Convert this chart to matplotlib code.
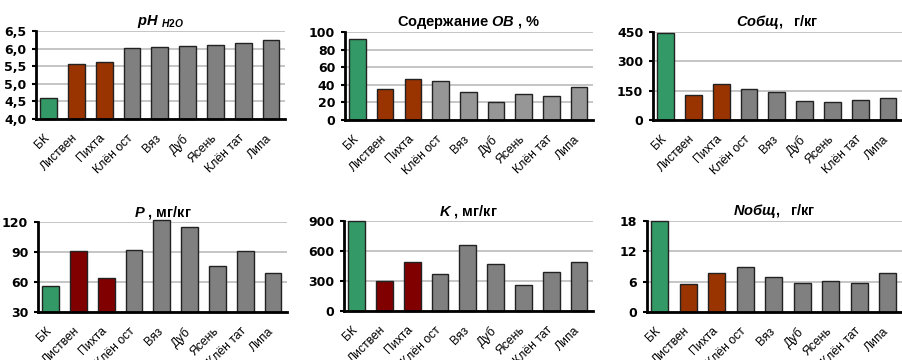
import matplotlib
matplotlib.use("Agg")
import matplotlib.pyplot as plt

plt.rcParams['font.family'] = ['Liberation Sans', 'DejaVu Sans']
plt.rcParams['mathtext.fontset'] = 'custom'
plt.rcParams['mathtext.it'] = 'Liberation Sans:italic:bold'
plt.rcParams['mathtext.rm'] = 'Liberation Sans:bold'
plt.rcParams['mathtext.bf'] = 'Liberation Sans:bold'

species = ["БК", "Листвен", "Пихта", "Клён ост", "Вяз", "Дуб", "Ясень", "Клён тат", "Липа"]

ph = [4.59, 5.56, 5.61, 6.02, 6.05, 6.06, 6.09, 6.16, 6.24]
ob = [92.5, 34.8, 46.5, 44.5, 31.5, 20.8, 29.0, 27.6, 37.0]
c_total = [445, 126, 182, 158, 144, 95, 92, 102, 112]
p_vals = [56.3, 90.7, 64.3, 92.3, 122.5, 115.0, 76.3, 91.0, 68.7]
k_vals = [900, 299, 495, 375, 664, 468, 256, 395, 488]
n_total = [18.05, 5.6, 7.8, 8.95, 6.85, 5.7, 6.2, 5.75, 7.7]

GREEN = "#339966"
BROWN = "#993300"
DRED = "#800000"
GRAY = "#808080"
LGRAY = "#969696"

panels = [
    # values, title, ylim, yticks, ticklabels, colors, rect (px)
    (ph, r"$\mathit{pH}$ $_{\mathit{H2O}}$", (4.0, 6.5), [4.0, 4.5, 5.0, 5.5, 6.0, 6.5],
     ["4,0", "4,5", "5,0", "5,5", "6,0", "6,5"], [GREEN, BROWN, BROWN] + [GRAY] * 6,
     [36, 31, 249, 88]),
    (ob, r"Содержание $\mathit{OB}$ , %", (0, 100), [0, 20, 40, 60, 80, 100],
     None, [GREEN, BROWN, BROWN] + [LGRAY] * 6, [345, 32, 248, 88]),
    (c_total, r"$\mathit{Cобщ,}$  г/кг", (0, 450), [0, 150, 300, 450],
     None, [GREEN, BROWN, BROWN] + [GRAY] * 6, [653, 32, 249, 88]),
    (p_vals, r"$\mathit{P}$ , мг/кг", (30, 120), [30, 60, 90, 120],
     None, [GREEN, DRED, DRED] + [GRAY] * 6, [38, 222, 249, 90]),
    (k_vals, r"$\mathit{K}$ , мг/кг", (0, 900), [0, 300, 600, 900],
     None, [GREEN, DRED, DRED] + [GRAY] * 6, [344, 221, 249, 90]),
    (n_total, r"$\mathit{Nобщ,}$  г/кг", (0, 18), [0, 6, 12, 18],
     None, [GREEN, BROWN, BROWN] + [GRAY] * 6, [647, 221, 255, 91]),
]

W, H = 902, 360
fig = plt.figure(figsize=(W / 100, H / 100), dpi=100)

for vals, title, ylim, yticks, ytl, colors, (px, py, pw, ph_) in panels:
    ax = fig.add_axes([px / W, 1 - (py + ph_) / H, pw / W, ph_ / H])
    x = list(range(len(species)))
    heights = [v - ylim[0] for v in vals]
    ax.bar(x, heights, bottom=ylim[0], width=0.6, color=colors,
           edgecolor="#222222", linewidth=1.0, zorder=3, clip_on=False)
    ax.set_ylim(*ylim)
    ax.set_xlim(-0.45, 8.5)
    ax.set_yticks(yticks)
    if ytl:
        ax.set_yticklabels(ytl)
    ax.set_xticks(x)
    ax.set_xticklabels([])
    # category labels, rotated like the excel ones
    for i, name in enumerate(species):
        ax.annotate(name, xy=(i, 0), xycoords=("data", "axes fraction"),
                    xytext=(-5, -13), textcoords="offset pixels",
                    rotation=45, ha="right", va="top", rotation_mode="anchor",
                    fontsize=8.8, annotation_clip=False)
    for lab in ax.get_yticklabels():
        lab.set_fontweight("bold")
        lab.set_fontsize(9)
        lab.set_family("DejaVu Sans")
    ax.tick_params(axis="x", length=0)
    ax.tick_params(axis="y", length=3, width=1.5, pad=4, direction="out")
    ax.yaxis.grid(True, color="#c0c0c0", linewidth=1.3, zorder=0)
    for s in ["top", "right"]:
        ax.spines[s].set_visible(False)
    for s in ["left", "bottom"]:
        ax.spines[s].set_linewidth(2)
        ax.spines[s].set_color("black")
        ax.spines[s].set_zorder(4)
    ax.set_title(title, fontsize=10.5, fontweight="bold", pad=4)

fig.savefig("out.png", dpi=100)
